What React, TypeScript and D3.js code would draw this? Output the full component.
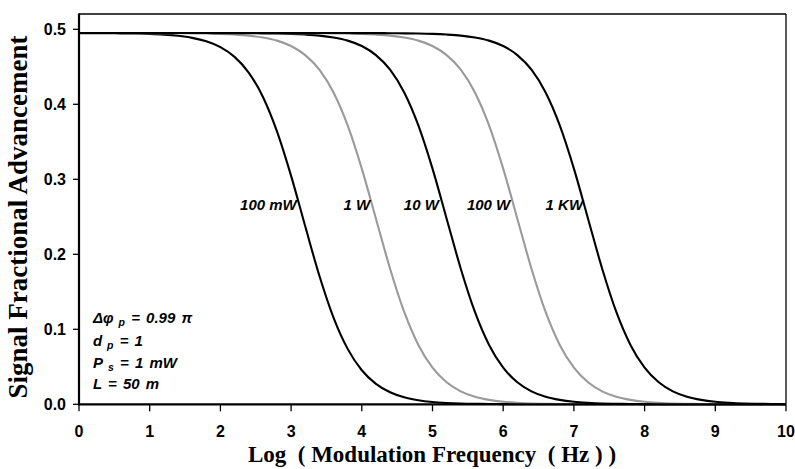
import React from 'react';
import * as d3 from 'd3';

const WIDTH = 795;
const HEIGHT = 469;
const PLOT = { left: 79, right: 786, top: 14, bottom: 404.3 };

// log10 of the modulation frequency (Hz)
const logFreq = [
  0, 0.2, 0.4, 0.6, 0.8, 1, 1.2, 1.4, 1.6, 1.8,
  2, 2.2, 2.4, 2.6, 2.8, 3, 3.2, 3.4, 3.6, 3.8,
  4, 4.2, 4.4, 4.6, 4.8, 5, 5.2, 5.4, 5.6, 5.8,
  6, 6.2, 6.4, 6.6, 6.8, 7, 7.2, 7.4, 7.6, 7.8,
  8, 8.2, 8.4, 8.6, 8.8, 9, 9.2, 9.4, 9.6, 9.8, 10,
];

// signal fractional advancement for each pump power
const adv100mW = [
  0.4949, 0.4949, 0.4948, 0.4946, 0.4943, 0.4938, 0.4929, 0.4913, 0.4886, 0.4840,
  0.4762, 0.4632, 0.4423, 0.4101, 0.3640, 0.3046, 0.2373, 0.1714, 0.1156, 0.0739,
  0.0454, 0.0272, 0.0160, 0.0093, 0.0054, 0.0031, 0.0018, 0.0010, 0.0006, 0.0004,
  0.0002, 0.0001, 0.0001, 0, 0, 0, 0, 0, 0, 0,
  0, 0, 0, 0, 0, 0, 0, 0, 0, 0, 0,
];
const adv1W = [
  0.4950, 0.4950, 0.4950, 0.4950, 0.4950, 0.4949, 0.4949, 0.4948, 0.4946, 0.4944,
  0.4939, 0.4930, 0.4916, 0.4891, 0.4849, 0.4777, 0.4656, 0.4461, 0.4158, 0.3719,
  0.3142, 0.2475, 0.1808, 0.1231, 0.0792, 0.0489, 0.0294, 0.0173, 0.0101, 0.0059,
  0.0034, 0.0020, 0.0011, 0.0007, 0.0004, 0.0002, 0.0001, 0.0001, 0, 0,
  0, 0, 0, 0, 0, 0, 0, 0, 0, 0, 0,
];
const adv10W = [
  0.4950, 0.4950, 0.4950, 0.4950, 0.4950, 0.4950, 0.4950, 0.4950, 0.4950, 0.4950,
  0.4949, 0.4949, 0.4948, 0.4946, 0.4944, 0.4939, 0.4930, 0.4916, 0.4891, 0.4849,
  0.4777, 0.4656, 0.4461, 0.4158, 0.3719, 0.3142, 0.2475, 0.1808, 0.1231, 0.0792,
  0.0489, 0.0294, 0.0173, 0.0101, 0.0059, 0.0034, 0.0020, 0.0011, 0.0007, 0.0004,
  0.0002, 0.0001, 0.0001, 0, 0, 0, 0, 0, 0, 0, 0,
];
const adv100W = [
  0.4950, 0.4950, 0.4950, 0.4950, 0.4950, 0.4950, 0.4950, 0.4950, 0.4950, 0.4950,
  0.4950, 0.4950, 0.4950, 0.4950, 0.4950, 0.4949, 0.4949, 0.4948, 0.4946, 0.4944,
  0.4939, 0.4930, 0.4916, 0.4891, 0.4849, 0.4777, 0.4656, 0.4461, 0.4158, 0.3719,
  0.3142, 0.2475, 0.1808, 0.1231, 0.0792, 0.0489, 0.0294, 0.0173, 0.0101, 0.0059,
  0.0034, 0.0020, 0.0011, 0.0007, 0.0004, 0.0002, 0.0001, 0.0001, 0, 0, 0,
];
const adv1KW = [
  0.4950, 0.4950, 0.4950, 0.4950, 0.4950, 0.4950, 0.4950, 0.4950, 0.4950, 0.4950,
  0.4950, 0.4950, 0.4950, 0.4950, 0.4950, 0.4950, 0.4950, 0.4950, 0.4950, 0.4950,
  0.4949, 0.4949, 0.4948, 0.4946, 0.4944, 0.4939, 0.4930, 0.4916, 0.4891, 0.4849,
  0.4777, 0.4656, 0.4461, 0.4158, 0.3719, 0.3142, 0.2475, 0.1808, 0.1231, 0.0792,
  0.0489, 0.0294, 0.0173, 0.0101, 0.0059, 0.0034, 0.0020, 0.0011, 0.0007, 0.0004, 0.0002,
];

const seriesLabels = ['100 mW', '1 W', '10 W', '100 W', '1 KW'];
const seriesValues = [adv100mW, adv1W, adv10W, adv100W, adv1KW];
const seriesColors = ['#000000', '#9a9a9a', '#000000', '#9a9a9a', '#000000'];
// where each curve label ends (log frequency) and its baseline (advancement)
const labelEndX = [3.08, 4.12, 5.09, 6.1, 7.13];
const labelBaseY = 0.259;

const xTicks = [0, 1, 2, 3, 4, 5, 6, 7, 8, 9, 10];
const yTicks = [0, 0.1, 0.2, 0.3, 0.4, 0.5];

const sans = 'Arial, "Liberation Sans", Helvetica, sans-serif';
const serif = '"Times New Roman", "Liberation Serif", Times, serif';

export default function App() {
  const x = d3.scaleLinear().domain([0, 10]).range([PLOT.left, PLOT.right]);
  const y = d3.scaleLinear().domain([0, 0.5204]).range([PLOT.bottom, PLOT.top]);

  const line = d3
    .line<number>()
    .x((_, i) => x(logFreq[i]))
    .y((d) => y(d))
    .curve(d3.curveMonotoneX);

  return (
    <svg
      width={WIDTH}
      height={HEIGHT}
      viewBox={`0 0 ${WIDTH} ${HEIGHT}`}
      style={{ position: 'absolute', left: 0, top: 0, background: '#fff' }}
    >
      <rect x={0} y={0} width={WIDTH} height={HEIGHT} fill="#fff" />

      {/* curves */}
      <g fill="none" strokeWidth={2.1}>
        {seriesValues.map((vals, i) => (
          <path key={seriesLabels[i]} d={line(vals) || ''} stroke={seriesColors[i]} />
        ))}
      </g>

      {/* frame: thin top and right edges */}
      <line x1={PLOT.left} x2={PLOT.right} y1={PLOT.top} y2={PLOT.top} stroke="#000" strokeWidth={1.3} />
      <line x1={PLOT.right} x2={PLOT.right} y1={PLOT.top} y2={PLOT.bottom} stroke="#000" strokeWidth={1.3} />

      {/* y axis */}
      <line x1={PLOT.left} x2={PLOT.left} y1={PLOT.top - 0.6} y2={PLOT.bottom + 1} stroke="#000" strokeWidth={2.2} />
      {yTicks.map((t) => (
        <g key={t}>
          <line x1={PLOT.left - 6} x2={PLOT.left} y1={y(t)} y2={y(t)} stroke="#000" strokeWidth={1.3} />
          <text
            x={PLOT.left - 13}
            y={y(t) + 5.6}
            textAnchor="end"
            fontFamily={sans}
            fontWeight="bold"
            fontSize={16}
          >
            {d3.format('.1f')(t)}
          </text>
        </g>
      ))}

      {/* x axis */}
      <line x1={PLOT.left - 1} x2={PLOT.right} y1={PLOT.bottom} y2={PLOT.bottom} stroke="#000" strokeWidth={2.2} />
      {xTicks.map((t) => (
        <g key={t}>
          <line x1={x(t)} x2={x(t)} y1={PLOT.bottom} y2={PLOT.bottom + 7} stroke="#000" strokeWidth={1.3} />
          <text
            x={x(t)}
            y={437}
            textAnchor="middle"
            fontFamily={sans}
            fontWeight="bold"
            fontSize={16}
          >
            {t}
          </text>
        </g>
      ))}

      {/* axis titles */}
      <text
        x={432}
        y={462}
        textAnchor="middle"
        fontFamily={serif}
        fontWeight="bold"
        fontSize={23}
        style={{ whiteSpace: 'pre' }}
      >
        {'Log  ( Modulation Frequency  ( Hz ) )'}
      </text>
      <text
        transform="translate(27,217) rotate(-90)"
        textAnchor="middle"
        fontFamily={serif}
        fontWeight="bold"
        fontSize={27}
      >
        Signal Fractional Advancement
      </text>

      {/* curve labels */}
      {seriesLabels.map((lab, i) => (
        <text
          key={lab}
          x={x(labelEndX[i])}
          y={y(labelBaseY)}
          textAnchor="end"
          fontFamily={sans}
          fontWeight="bold"
          fontStyle="italic"
          fontSize={15}
        >
          {lab}
        </text>
      ))}

      {/* simulation parameters */}
      <g
        fontFamily={sans}
        fontWeight="bold"
        fontStyle="italic"
        fontSize={15}
        style={{ whiteSpace: 'pre', wordSpacing: '2px' }}
      >
        <text x={93} y={323}>
          <tspan>Δφ</tspan>
          <tspan fontSize={10.5} dy={3}> p</tspan>
          <tspan dy={-3}> = 0.99 π</tspan>
        </text>
        <text x={93} y={345.5}>
          <tspan>d</tspan>
          <tspan fontSize={10.5} dy={3}> p</tspan>
          <tspan dy={-3}> = 1</tspan>
        </text>
        <text x={93} y={368}>
          <tspan>P</tspan>
          <tspan fontSize={10.5} dy={3}> s</tspan>
          <tspan dy={-3}> = 1 mW</tspan>
        </text>
        <text x={93} y={389}>L = 50 m</text>
      </g>
    </svg>
  );
}
